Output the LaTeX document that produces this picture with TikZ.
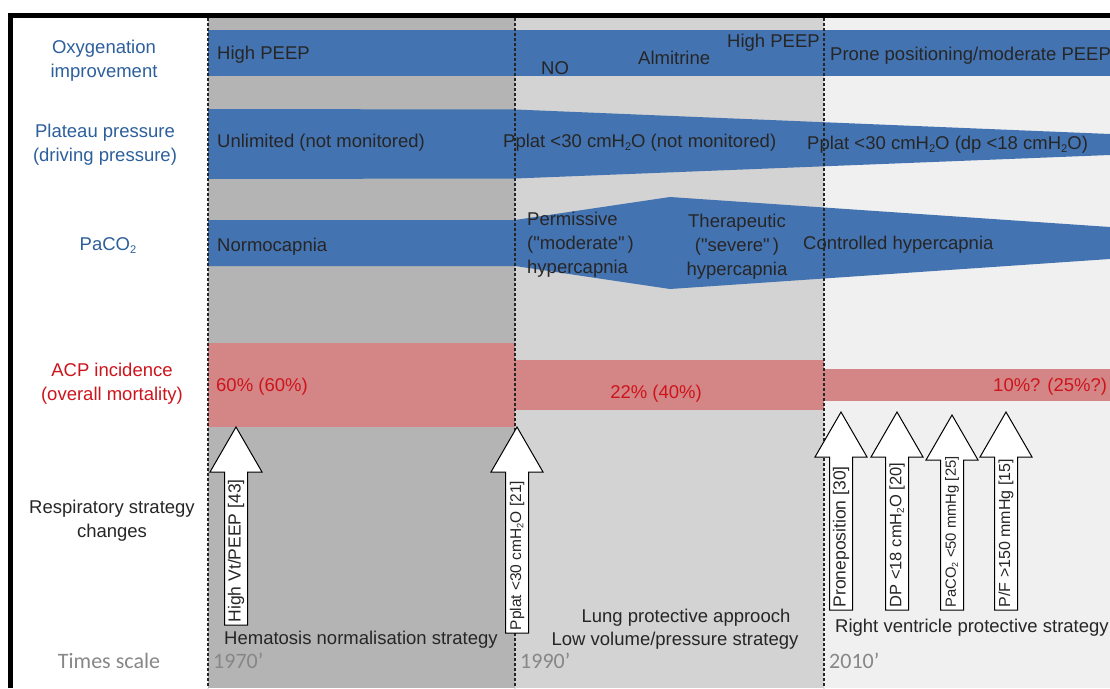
\documentclass[tikz,border=0pt]{standalone}
\usepackage{graphicx}
\usepackage{fontspec}
\setmainfont{Liberation Sans}
\newfontfamily\scalefont{Carlito}
\usetikzlibrary{positioning,calc}
\definecolor{BandBlue}{RGB}{68,115,177}
\definecolor{BandPink}{RGB}{212,134,134}
\definecolor{LabelBlue}{RGB}{44,95,155}
\definecolor{AcpRed}{RGB}{205,20,28}
\definecolor{TextDark}{RGB}{38,38,38}
\definecolor{EraDark}{RGB}{180,180,180}
\definecolor{EraMid}{RGB}{211,211,211}
\definecolor{EraLight}{RGB}{240,240,240}
\definecolor{ScaleGray}{RGB}{135,135,135}
\newcommand{\lowtwo}{\raisebox{-0.3ex}{\scalebox{0.6}{2}}}
\newcommand{\cmh}{cmH\lowtwo O}
\newcommand{\dq}{\textquotedbl}
\tikzset{
  rowlabel/.style={align=center,text=LabelBlue,font=\fontsize{18.5}{24}\selectfont,inner sep=0pt},
  bandtext/.style={anchor=west,text=TextDark,font=\fontsize{18.5}{24}\selectfont,inner sep=0pt,yshift=-2pt},
  pcttext/.style={text=AcpRed,font=\fontsize{18.5}{24}\selectfont,inner sep=0pt,yshift=-2pt},
  yeartext/.style={anchor=west,text=ScaleGray,font=\scalefont\fontsize{22}{26}\selectfont,inner sep=0pt},
  eraline/.style={draw=black!85,line width=1.2pt,dash pattern=on 3pt off 2pt},
  uparrow/.style={draw=black,fill=white,line width=1pt,line join=miter},
  arrowtext/.style={anchor=west,rotate=90,text=TextDark,inner sep=0pt},
}

\begin{document}
\begin{tikzpicture}[x=1pt,y=-1pt]
  \useasboundingbox (0,0) rectangle (1110,688);
  \clip (0,0) rectangle (1110,688);

  % eras
  \fill[EraDark] (208,18) rectangle (515,688);
  \fill[EraMid] (515,18) rectangle (824,688);
  \fill[EraLight] (824,18) rectangle (1110,688);

  % bands
  \fill[BandBlue] (208,29.5) rectangle (1110,75.5);
  \fill[BandBlue] (208,109) -- (515,109.5) -- (1110,134) -- (1110,155)
    -- (515,178.5) -- (208,179) -- cycle;
  \fill[BandBlue] (208,220) -- (515,220) -- (670,197) -- (1110,227)
    -- (1110,259) -- (670,289) -- (515,266) -- (208,266) -- cycle;
  \fill[BandPink] (208,343) rectangle (515,427);
  \fill[BandPink] (515,360) rectangle (824,409.5);
  \fill[BandPink] (824,368.5) rectangle (1110,400.5);

  % row labels
  \node[rowlabel] (oxy) at (104,61) {Oxygenation\\improvement};
  \node[rowlabel] (plat) at (105,145) {Plateau pressure\\(driving pressure)};
  \node[rowlabel] (paco) at (108,246) {PaCO\lowtwo};
  \node[rowlabel,text=AcpRed] (acp) at (112,384) {ACP incidence\\(overall mortality)};
  \node[rowlabel,text=TextDark] (resp) at (112,521) {Respiratory strategy\\changes};
  \node[yeartext,anchor=center] (scale) at (109,661) {Times scale};

  % oxygenation
  \node[bandtext] (peep1) at (217,53) {High PEEP};
  \node[bandtext] (no) at (541,66) {NO};
  \node[bandtext] (almi) at (638,56) {Almitrine};
  \node[bandtext] (peep2) at (727,41) {High PEEP};
  \node[bandtext] (prone) at (830,54) {Prone positioning/moderate PEEP};

  % plateau pressure
  \node[bandtext] (unlim) at (217,141) {Unlimited (not monitored)};
  \node[bandtext] (pplat1) at (503,141) {Pplat <30 \cmh{} (not monitored)};
  \node[bandtext] (pplat2) at (807,143) {Pplat <30 \cmh{} (dp <18 \cmh)};

  % PaCO2
  \node[bandtext] (normo) at (217,245) {Normocapnia};
  \node[bandtext,align=left] (permis) at (527,243)
    {Permissive\\(\dq moderate\dq\,)\\hypercapnia};
  \node[bandtext,anchor=center,align=center] (thera) at (737,245)
    {Therapeutic\\(\dq severe\dq\,)\\hypercapnia};
  \node[bandtext] (ctrl) at (803,243) {Controlled hypercapnia};

  % ACP incidence
  \node[pcttext,anchor=west] (acp1) at (216,385) {60\% (60\%)};
  \node[pcttext] (acp2) at (656,392) {22\% (40\%)};
  \node[pcttext,anchor=west] (acp3) at (993,385) {10\%? (25\%?)};

  % strategies
  \node[bandtext] (hema) at (224,638) {Hematosis normalisation strategy};
  \node[bandtext,anchor=center] (lung) at (686,616) {Lung protective approoch};
  \node[bandtext,anchor=center] (lowvol) at (675,639) {Low volume/pressure strategy};
  \node[bandtext] (rv) at (835,626) {Right ventricle protective strategy};

  % time scale
  \node[yeartext] (y70) at (213,661) {1970’};
  \node[yeartext] (y90) at (520,661) {1990’};
  \node[yeartext] (y10) at (829,661) {2010’};

  \foreach \x in {208,515,824}
    \draw[eraline] (\x,18) -- (\x,688);

  % frame
  \draw[line width=5pt,line join=miter] (10,688) -- (10,15.8) -- (1110,15.8);

  % strategy changes
  \foreach \nm/\cx/\ty/\by/\fs/\txt in {
      hivt/236/427/625/17.5/{High Vt/PEEP [43]},
      plat30/517/427/633/15.5/{Pplat <30 \cmh{} [21]},
      pronep/841/412/610/17.5/{Proneposition [30]},
      dp18/897/412/610/16.5/{DP <18 \cmh{} [20]},
      paco50/952/415/610/14.8/{PaCO\lowtwo{} <50 mmHg [25]},
      pf150/1006/412/610/16/{P/F >150 mmHg [15]}} {
    \draw[uparrow] (\cx,\ty) -- ++(26,45) -- ++(-14.5,0) -- ({\cx+11.5},\by)
      -- ++(-23,0) -- ({\cx-11.5},{\ty+45}) -- ++(-14.5,0) -- cycle;
    \node[arrowtext,font=\fontsize{\fs}{\fs}\selectfont] (\nm) at (\cx,{\by-2.5}) {\txt};
  }
\end{tikzpicture}
\end{document}
